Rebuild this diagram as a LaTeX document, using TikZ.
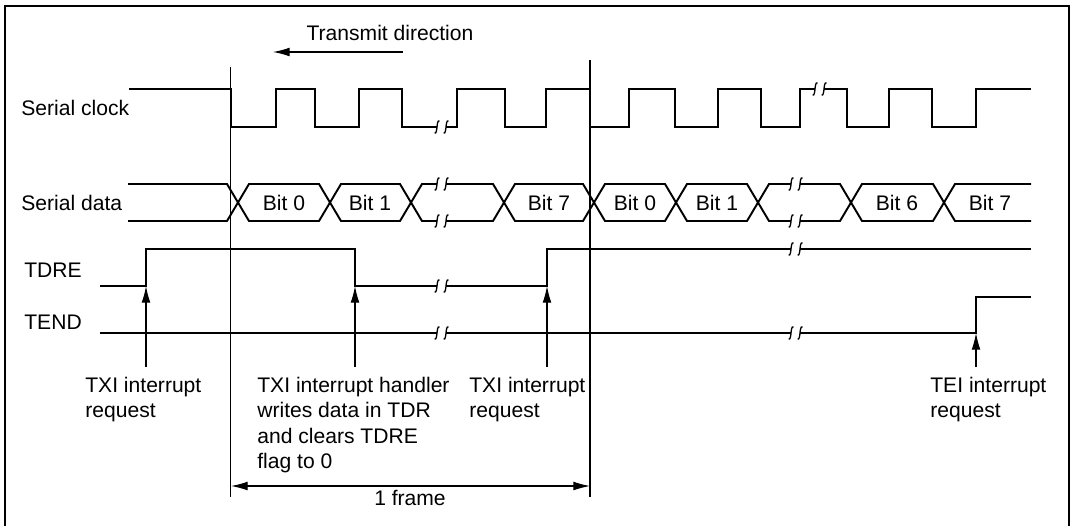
\documentclass[tikz,border=0pt]{standalone}
\usepackage{fontspec}
\setmainfont{Liberation Sans}
\usetikzlibrary{arrows.meta}

% break mark on a signal line
\newcommand{\brkmark}[2]{\draw[brk] (#1-2.5,#2+6) .. controls (#1+1,#2+8) and (#1-1,#2-8) .. (#1+2.5,#2-6);}

\begin{document}
\begin{tikzpicture}[x=0.02cm, y=-0.02cm,
    sig/.style={line width=1.1pt},
    guide/.style={line width=0.6pt},
    brk/.style={line width=0.75pt},
    pointer/.style={line width=0.6pt, -{Latex[length=9.5pt,width=5pt]}},
    lbl/.style={inner sep=0pt, align=left, font=\fontsize{12}{14.4}\selectfont}]
  \useasboundingbox (0,0) rectangle (1074,525);
  \draw[line width=1.4pt] (5,530) -- (5,6) -- (1069,6) -- (1069,530);

  % Signal names
  \node[lbl, anchor=west] (clk) at (21,108) {Serial clock};
  \node[lbl, anchor=west] (dat) at (21,203) {Serial data};
  \node[lbl, anchor=west] (tdre) at (24,270) {TDRE};
  \node[lbl, anchor=west] (tend) at (24,322) {TEND};

  % Transmit direction
  \node[lbl] (dir) at (390,33) {Transmit direction};
  \coordinate (dirA) at (403,52);
  \coordinate (dirB) at (273,52);
  \draw[pointer] (dirA) -- (dirB);

  % Frame boundaries
  \coordinate (fs) at (230.5,497);
  \coordinate (fe) at (590,497);
  \draw[guide] (230.5,67) -- (fs);
  \draw[guide] (590,60) -- (fe);

  % Serial clock
  \draw[sig] (129,89) -| (231,127) -| (276,89) -| (315,127) -| (359,89) -| (402,127) -- (437,127)
    (446,127) -| (457,89) -| (505,127) -| (546,89) -| (590,127) -| (629,89) -| (675,127) -| (718,89)
    -| (761,127) -| (800,89) -- (815,89)
    (824,89) -| (847,127) -| (889,89) -| (932,127) -| (976,89) -- (1031,89);

  % Serial data
  \draw[sig] (128,184) -- (227,184) -- (238,202.5) -- (227,221) -- (128,221);
  \foreach \a/\b in {238/330, 330/411, 504/594, 594/676, 676/758, 851/944}
    \draw[sig] (\a,202.5) -- (\a+11,184) -- (\b-11,184) -- (\b,202.5) -- (\b-11,221) -- (\a+11,221) -- cycle;
  \draw[sig] (411,202.5) -- (422,184) -- (437,184) (446,184) -- (493,184) -- (504,202.5)
    -- (493,221) -- (446,221) (437,221) -- (422,221) -- (411,202.5);
  \draw[sig] (758,202.5) -- (769,184) -- (791,184) (800,184) -- (840,184) -- (851,202.5)
    -- (840,221) -- (800,221) (791,221) -- (769,221) -- (758,202.5);
  \draw[sig] (1031,184) -- (955,184) -- (944,202.5) -- (955,221) -- (1031,221);
  \foreach \x/\t [count=\i] in {284/Bit 0, 370/Bit 1, 549/Bit 7, 635/Bit 0, 717/Bit 1, 897/Bit 6, 990/Bit 7}
    \node[lbl] (bit\i) at (\x,202.5) {\t};

  % TDRE and TEND
  \draw[sig] (100,286) -| (146,249) -| (355,286) -- (437,286)
    (446,286) -| (547,249) -- (791,249) (800,249) -- (1031,249);
  \draw[sig] (100,333) -- (437,333) (446,333) -- (791,333) (800,333) -| (976,297) -- (1031,297);

  % Breaks
  \foreach \x/\y in {437/127, 446/127, 815/89, 824/89, 437/184, 446/184, 437/221, 446/221,
      791/184, 800/184, 791/221, 800/221, 437/286, 446/286, 791/249, 800/249,
      437/333, 446/333, 791/333, 800/333}
    {\brkmark{\x}{\y}}

  % Interrupt labels
  \node[lbl, anchor=north west] (txiA) at (85,377) {TXI interrupt\\request};
  \node[lbl, anchor=north west] (txiH) at (257,377) {TXI interrupt handler\\writes data in TDR\\and clears TDRE\\flag to 0};
  \node[lbl, anchor=north west] (txiB) at (469,377) {TXI interrupt\\request};
  \node[lbl, anchor=north west] (tei) at (930,377) {TEI interrupt\\request};
  \coordinate (up1) at (146,286);
  \coordinate (up2) at (355,286);
  \coordinate (up3) at (547,286);
  \coordinate (up4) at (976,333);
  \draw[pointer] (up1 |- txiA.north) ++(0,-10) -- (up1);
  \draw[pointer] (up2 |- txiH.north) ++(0,-10) -- (up2);
  \draw[pointer] (up3 |- txiB.north) ++(0,-10) -- (up3);
  \draw[pointer] (up4 |- tei.north) ++(0,-10) -- (up4);

  % 1 frame
  \coordinate (fa) at (231,486);
  \coordinate (fb) at (590,486);
  \draw[line width=0.6pt, {Latex[length=9.5pt,width=5pt]}-{Latex[length=9.5pt,width=5pt]}] (fa) -- (fb);
  \node[lbl] (frm) at (410,498) {1 frame};
\end{tikzpicture}
\end{document}
